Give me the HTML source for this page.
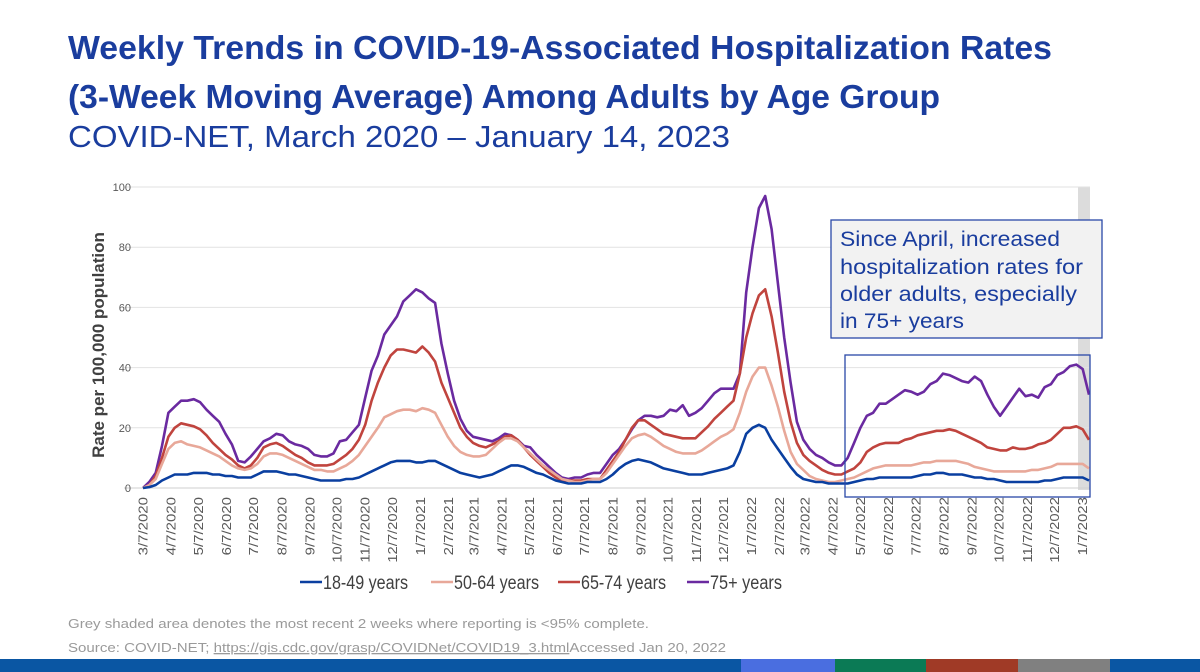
<!DOCTYPE html>
<html><head><meta charset="utf-8"><style>
html,body{margin:0;padding:0;background:#fff;width:1200px;height:672px;overflow:hidden}
svg{display:block}
</style></head><body>
<svg id="chart" width="1200" height="672" viewBox="0 0 1200 672" xmlns="http://www.w3.org/2000/svg" font-family="'Liberation Sans', sans-serif">
<text x="68" y="59" font-size="33" font-weight="bold" fill="#1a3d9e" textLength="984" lengthAdjust="spacingAndGlyphs">Weekly Trends in COVID-19-Associated Hospitalization Rates</text>
<text x="68" y="108" font-size="33" font-weight="bold" fill="#1a3d9e" textLength="872" lengthAdjust="spacingAndGlyphs">(3-Week Moving Average) Among Adults by Age Group</text>
<text x="68" y="147" font-size="31" fill="#1a3d9e" textLength="662" lengthAdjust="spacingAndGlyphs">COVID-NET, March 2020 – January 14, 2023</text>
<rect x="1078" y="187" width="12" height="303" fill="#dcdcdc"/>
<g id="grid"></g>
<g id="xlabels"></g>
<g id="lines"></g>
<text transform="translate(104,345) rotate(-90)" text-anchor="middle" font-size="17" font-weight="bold" fill="#404040">Rate per 100,000 population</text>
<rect x="831" y="220" width="271" height="118" fill="#f2f2f2" stroke="#2a48a8" stroke-width="1.3"/>
<g font-size="21" fill="#1a3d9e">
<text x="840" y="246" textLength="220" lengthAdjust="spacingAndGlyphs">Since April, increased</text>
<text x="840" y="274" textLength="243" lengthAdjust="spacingAndGlyphs">hospitalization rates for</text>
<text x="840" y="301" textLength="237" lengthAdjust="spacingAndGlyphs">older adults, especially</text>
<text x="840" y="328" textLength="124" lengthAdjust="spacingAndGlyphs">in 75+ years</text>
</g>
<rect x="845" y="355" width="245" height="142" fill="none" stroke="#2a48a8" stroke-width="1.3"/>
<g id="legend"></g>
<text x="68" y="628" font-size="13" fill="#9a9a9a" textLength="581" lengthAdjust="spacingAndGlyphs">Grey shaded area denotes the most recent 2 weeks where reporting is &lt;95% complete.</text>
<text x="68" y="652" font-size="13" fill="#9a9a9a" textLength="658" lengthAdjust="spacingAndGlyphs">Source: COVID-NET; <tspan text-decoration="underline">https://gis.cdc.gov/grasp/COVIDNet/COVID19_3.html</tspan>Accessed Jan 20, 2022</text>
<rect x="0" y="659" width="1200" height="13" fill="#0a56a3"/>
<rect x="741" y="659" width="94" height="13" fill="#4a6ee0"/>
<rect x="835" y="659" width="91" height="13" fill="#0b7a55"/>
<rect x="926" y="659" width="92" height="13" fill="#a03a26"/>
<rect x="1018" y="659" width="92" height="13" fill="#808080"/>
</svg>
<script>
const yTicks = [0, 20, 40, 60, 80, 100];
const monthLabels = ["3/7/2020","4/7/2020","5/7/2020","6/7/2020","7/7/2020","8/7/2020","9/7/2020","10/7/2020","11/7/2020","12/7/2020","1/7/2021","2/7/2021","3/7/2021","4/7/2021","5/7/2021","6/7/2021","7/7/2021","8/7/2021","9/7/2021","10/7/2021","11/7/2021","12/7/2021","1/7/2022","2/7/2022","3/7/2022","4/7/2022","5/7/2022","6/7/2022","7/7/2022","8/7/2022","9/7/2022","10/7/2022","11/7/2022","12/7/2022","1/7/2023"];
const seriesNames = ["18-49 years","50-64 years","65-74 years","75+ years"];
const age18to49 = [0,0.3,1,2.5,3.5,4.5,4.5,4.5,5,5,5,4.5,4.5,4,4,3.5,3.5,3.5,4.5,5.5,5.5,5.5,5,4.5,4.5,4,3.5,3,2.5,2.5,2.5,2.5,3,3,3.5,4.5,5.5,6.5,7.5,8.5,9,9,9,8.5,8.5,9,9,8,7,6,5,4.5,4,3.5,4,4.5,5.5,6.5,7.5,7.5,7,6,5,4.5,3.5,2.5,2,1.5,1.5,1.5,2,2,2,3,4.5,6.5,8,9,9.5,9,8.5,7.5,6.5,6,5.5,5,4.5,4.5,4.5,5,5.5,6,6.5,7.5,12,18,20,21,20,16,13,10,7,4.5,3,2.5,2,2,1.5,1.5,1.5,1.5,2,2.5,3,3,3.5,3.5,3.5,3.5,3.5,3.5,4,4.5,4.5,5,5,4.5,4.5,4.5,4,3.5,3.5,3,3,2.5,2,2,2,2,2,2,2.5,2.5,3,3.5,3.5,3.5,3.5,2.5];
const age50to64 = [0,1,3,8,13,15,15.5,14.5,14,13.5,12.5,11.5,10.5,9,7.5,6.5,6,6.5,8,10.5,11.5,11.5,11,10,9,8,7,6,6,5.5,5.5,6.5,7.5,9,11,14,17,20,23.5,24.5,25.5,26,26,25.5,26.5,26,25,21,17,14,12,11,10.5,10.5,11,13,15,16.5,16.5,15.5,13.5,11.5,9.5,7.5,6,4.5,3,2.5,2,2,2.5,3,3,5,8,11,14,16.5,17.5,18,17,15.5,14,13,12,11.5,11.5,11.5,12.5,14,15.5,17,18,19.5,25,32,37,40,40,34,27,19,12,8,6,4,3,2.5,2,2,2.5,3,3.5,4.5,5.5,6.5,7,7.5,7.5,7.5,7.5,7.5,8,8.5,8.5,9,9,9,9,8.5,8,7,6.5,6,5.5,5.5,5.5,5.5,5.5,5.5,6,6,6.5,7,8,8,8,8,8,6.5];
const age65to74 = [0,1,4,10,17,20,21.5,21,20.5,19.5,17.5,15,13,11,9.5,7.5,6.5,7.5,10,13.5,14.5,15,14,12.5,11,10,8.5,7.5,7.5,7.5,8,9.5,11,13,16,21,29,35,40,44,46,46,45.5,45,47,45,42,35,30,25,20,17,15,14,13.5,14.5,15.5,17,17.5,16,13.5,11,9,7,5,3.5,2.5,2.5,2.5,2.5,3,3,3,6,9,12,16,20,22.5,22.5,21,19.5,18,17.5,17,16.5,16.5,16.5,18.5,20.5,23,25,27,29,38,50,58,64,66,57,45,32,22,15,11,9,7.5,6,5,4.5,4.5,5.5,6.5,8.5,12,13.5,14.5,15,15,15,16,16.5,17.5,18,18.5,19,19,19.5,19,18,17,16,15,13.5,13,12.5,12.5,13.5,13,13,13.5,14.5,15,16,18,20,20,20.5,19.5,16];
const age75plus = [0,2,5,14,25,27,29,29,29.5,28.5,26,24,22,18,14.5,9,8.5,10.5,13,15.5,16.5,18,17.5,15.5,14.5,14,13,11,10.5,10.5,11.5,15.5,16,18.5,21,30,39,44,51,54,57,62,64,66,65,63,61.5,48,38,29,23,19,17,16.5,16,15.5,16.5,18,17.5,16,14,13.5,11,9,7,5,3.5,3,3.5,3.5,4.5,5,5,8,11,13,16,19.5,22.5,24,24,23.5,24,26,25.5,27.5,24,25,26.5,29,31.5,33,33,33,38,65,80,93,97,86,68,50,35,22,16,13,11,10,8.5,7.5,7.5,10,15,20,24,25,28,28,29.5,31,32.5,32,31,32,34.5,35.5,38,37.5,36.5,35.5,35,37,35.5,31,27,24,27,30,33,30.5,31,30,33.5,34.5,37.5,38.5,40.5,41,39.5,31];
const seriesColors = ["#0a3fa0","#e8a899","#c0443e","#6a2aa0"];

const NS = "http://www.w3.org/2000/svg";
const x0 = 143, x1 = 1089, y0 = 488, y100 = 187;
const nWeeks = age75plus.length;
const xScale = i => x0 + (x1 - x0) * i / (nWeeks - 1);
const yScale = v => y0 - (y0 - y100) * v / 100;
const startDate = Date.UTC(2020, 2, 7);
function dateX(label) {
  const p = label.split("/").map(Number);
  const d = (Date.UTC(p[2], p[0] - 1, p[1]) - startDate) / 86400000;
  return xScale(d / 7);
}
function mk(tag, attrs, parent) {
  const el = document.createElementNS(NS, tag);
  for (const k in attrs) el.setAttribute(k, attrs[k]);
  parent.appendChild(el);
  return el;
}
const grid = document.getElementById("grid");
yTicks.forEach(t => {
  const y = yScale(t);
  const gl = mk("line", {x1: 124, x2: 1090, y1: y, y2: y, stroke: t === 0 ? "#cfcfcf" : "#e2e2e2", "stroke-width": 1}, grid);
  
  
  const tl = mk("text", {x: 131, y: y + 4, "text-anchor": "end", "font-size": 11, fill: "#595959"}, grid);
  
  
  tl.textContent = t;
});
const xl = document.getElementById("xlabels");
monthLabels.forEach(lb => {
  const x = dateX(lb);
  const t = mk("text", {transform: `translate(${x + 4.5},497) rotate(-90)`, "text-anchor": "end", "font-size": 12.5, fill: "#595959", textLength: (lb.length * 7.3).toFixed(1), lengthAdjust: "spacingAndGlyphs"}, xl);
  
  
  t.textContent = lb;
});
const lines = document.getElementById("lines");
[age18to49, age50to64, age65to74, age75plus].slice().reverse().forEach((arr, ri) => {
  const idx = 3 - ri;
  const d = arr.map((v, i) => (i ? "L" : "M") + xScale(i).toFixed(1) + "," + yScale(v).toFixed(1)).join("");
  const p = mk("path", {d: d, fill: "none", stroke: seriesColors[idx], "stroke-width": 2.6, "stroke-linejoin": "round"}, lines);
  
  
});
const legend = document.getElementById("legend");
const legendX = [300, 431, 558, 687];
const legendW = [85, 85, 85, 72];
seriesNames.forEach((nm, i) => {
  const g = mk("g", {}, legend);
  
  
  mk("line", {x1: legendX[i], x2: legendX[i] + 22, y1: 582, y2: 582, stroke: seriesColors[i], "stroke-width": 2.6}, g);
  const t = mk("text", {x: legendX[i] + 23, y: 589, "font-size": 19, fill: "#404040", textLength: legendW[i], lengthAdjust: "spacingAndGlyphs"}, g);
  t.textContent = nm;
});
</script>
</body></html>
